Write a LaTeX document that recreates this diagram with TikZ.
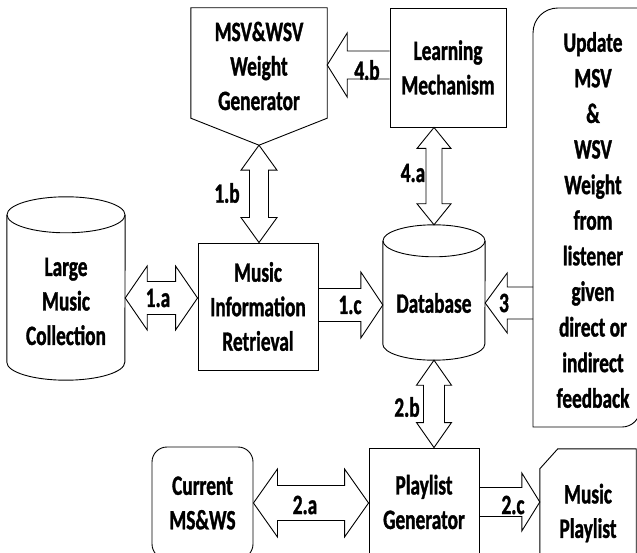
\documentclass[tikz,border=0pt]{standalone}
\usepackage{fontspec}
\setmainfont{Carlito}[FakeStretch=0.69, BoldFeatures={FakeBold=1.2}]
\usetikzlibrary{calc}
\tikzset{
 blk/.style={draw=black, line width=0.9pt, line join=miter},
 frame/.style={draw=black, line width=0.9pt},
 txt/.style={font=\fontsize{28}{34.5}\selectfont\bfseries, align=center, inner sep=0pt},
 lbl/.style={font=\fontsize{28}{30}\selectfont\bfseries, inner sep=0pt},
}
\newcommand\hsingle[5]{\draw[blk] let \p1=(#1), \p2=(#2), \n1={ifthenelse(\x2>\x1,1,-1)} in
 (\x1,\y1+#3) -- (\x2-\n1*#5,\y1+#3) -- (\x2-\n1*#5,\y1+#4) -- (\x2,\y1) -- (\x2-\n1*#5,\y1-#4) -- (\x2-\n1*#5,\y1-#3) -- (\x1,\y1-#3);}
\newcommand\hdouble[5]{\draw[blk] let \p1=(#1), \p2=(#2) in
 (\x1,\y1) -- (\x1+#5,\y1+#4) -- (\x1+#5,\y1+#3) -- (\x2-#5,\y1+#3) -- (\x2-#5,\y1+#4) -- (\x2,\y1) -- (\x2-#5,\y1-#4) -- (\x2-#5,\y1-#3) -- (\x1+#5,\y1-#3) -- (\x1+#5,\y1-#4) -- cycle;}
\newcommand\vdouble[5]{\draw[blk] let \p1=(#1), \p2=(#2) in
 (\x1,\y1) -- (\x1+#4,\y1-#5) -- (\x1+#3,\y1-#5) -- (\x1+#3,\y2+#5) -- (\x1+#4,\y2+#5) -- (\x1,\y2) -- (\x1-#4,\y2+#5) -- (\x1-#3,\y2+#5) -- (\x1-#3,\y1-#5) -- (\x1-#4,\y1-#5) -- cycle;}
\begin{document}
\begin{tikzpicture}[x=1pt,y=-1pt]
\useasboundingbox (0,0) rectangle (637,553);
\clip (0,0) rectangle (637,553);

% Weight generator (pentagon)
\node[minimum width=136pt, minimum height=110pt, inner sep=0pt] (wg) at (259,63) {};
\node[txt] (wgt) at (259,66) {MSV\&WSV\\Weight\\Generator};
\draw[frame] (wg.south west) -- (wg.north west) -- (wg.north east) -- (wg.south east) -- ($(wg.south)+(0,27)$) coordinate (wgtip) -- cycle;

% Learning mechanism
\node[frame, txt, minimum width=116pt, minimum height=119pt] (lm) at (448,67.5) {Learning\\Mechanism};

% Music information retrieval
\node[frame, txt, minimum width=120pt, minimum height=127pt] (mir) at (258,306.5) {Music\\Information\\Retrieval};

% Playlist generator
\node[frame, txt, minimum width=110pt, minimum height=108pt] (pg) at (424,502) {Playlist\\Generator};

% Current MS&WS
\node[frame, txt, rounded corners=15pt, minimum width=101pt, minimum height=112pt] (cur) at (202.5,503) {Current\\MS\&WS};

% Music playlist (snipped corner)
\node[txt, minimum width=96pt, minimum height=128pt] (mp) at (588,513) {Music\\Playlist};
\draw[frame] (mp.south west) -- ($(mp.north west)+(0,20)$) -- ($(mp.north west)+(18,0)$) -- (mp.north east) -- (mp.south east);

% Update box
\node[txt, font=\fontsize{28}{35.6}\selectfont\bfseries] (upd) at (593,220) {Update\\MSV\\\&\\WSV\\Weight\\from\\listener\\given\\direct or\\indirect\\feedback};
\draw[frame] (642,8) -- (558,8) .. controls (544,8) and (533,19) .. (533,33) -- (533,427) -- (622,427) .. controls (632,427) and (640,419) .. (640,409) -- (642,400);

% Large music collection (cylinder)
\node[minimum width=118pt, minimum height=183pt, inner sep=0pt] (lmc) at (66,288.5) {};
\draw[frame] ($(lmc.north west)+(0,18)$) -- ($(lmc.south west)+(0,-18)$) arc[start angle=180, end angle=360, x radius=59pt, y radius=18pt] -- ($(lmc.north east)+(0,18)$);
\draw[frame] ($(lmc.north)+(0,18)$) ellipse [x radius=59pt, y radius=18pt];
\node[txt] (lmct) at ($(lmc.center)+(0,13)$) {Large\\Music\\Collection};

% Database (cylinder)
\node[minimum width=102pt, minimum height=135pt, inner sep=0pt] (db) at (434,292.5) {};
\draw[frame] ($(db.north west)+(0,16)$) -- ($(db.south west)+(0,-16)$) arc[start angle=180, end angle=360, x radius=51pt, y radius=16pt] -- ($(db.north east)+(0,16)$);
\draw[frame] ($(db.north)+(0,16)$) ellipse [x radius=51pt, y radius=16pt];
\node[txt] (dbt) at (434,303) {Database};

% connectors
\coordinate (y1a) at (0,298);
\hdouble{lmc.east |- y1a}{mir.west |- y1a}{16.5pt}{32pt}{22pt}
\vdouble{wgtip}{wgtip |- mir.north}{9.5pt}{18pt}{25pt}
\coordinate (y1c) at (0,305);
\hsingle{mir.east |- y1c}{db.west |- y1c}{16.5pt}{33pt}{22pt}
\hdouble{cur.east}{pg.west |- cur.east}{17.5pt}{34pt}{24pt}
\vdouble{db.south}{db.south |- pg.north}{10.5pt}{17.5pt}{25pt}
\hsingle{pg.east}{mp.west |- pg.east}{14.5pt}{29pt}{18pt}
\coordinate (updw) at (533,303);
\hsingle{updw}{db.east |- updw}{16pt}{30pt}{22pt}
\vdouble{db.north |- lm.south}{db.north}{8pt}{17pt}{21pt}
\coordinate (y4b) at (0,65);
\hsingle{lm.west |- y4b}{wg.east |- y4b}{14pt}{32pt}{20pt}

% labels
\node[lbl] (l1a) at (158,298) {1.a};
\node[lbl] (l1b) at (227,193) {1.b};
\node[lbl] (l1c) at (350,305) {1.c};
\node[lbl] (l2a) at (305,505) {2.a};
\node[lbl] (l2b) at (407,407) {2.b};
\node[lbl] (l2c) at (513,505) {2.c};
\node[lbl] (l3) at (504,303) {3};
\node[lbl] (l4a) at (413,173) {4.a};
\node[lbl] (l4b) at (367,70) {4.b};
\end{tikzpicture}
\end{document}
